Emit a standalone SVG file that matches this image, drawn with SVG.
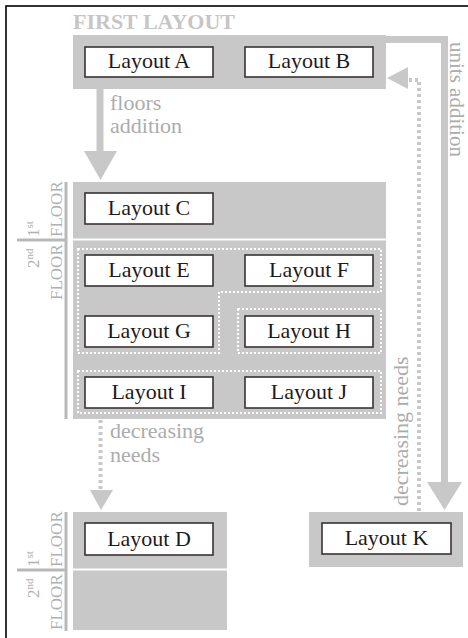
<svg xmlns="http://www.w3.org/2000/svg" width="468" height="638" viewBox="0 0 468 638">
<style>
text{font-family:"Liberation Serif","Tinos","Times New Roman","Noto Serif","DejaVu Serif",serif}
.blk{fill:#c8c8c8}
.box{fill:#fff;stroke:#3a3333;stroke-width:1.6}
.lbl{font-size:22px;fill:#1e1a1a;text-anchor:middle}
.note{font-size:22px;fill:#acacac}
.side{font-size:17px;fill:#b0b0b0}
.dots{fill:none;stroke:#fff;stroke-width:2;stroke-dasharray:2 2}
.arr{fill:none;stroke:#c8c8c8;stroke-width:7}
.darr{fill:none;stroke:#c8c8c8;stroke-width:4;stroke-dasharray:3 3}
.head{fill:#c8c8c8}
.bar{stroke:#b8b8b8;stroke-width:3}
</style>
<rect width="468" height="638" fill="#fff"/>
<rect x="6" y="6" width="470" height="640" fill="none" stroke="#000" stroke-width="1.6"/>

<g id="connectors">
  <path class="arr" d="M100,89 V152"/>
  <polygon class="head" points="84,151 117,151 100.5,180"/>
  <path class="arr" d="M386,39.5 H444.5 V483"/>
  <polygon class="head" points="427,482 462,482 444.5,510"/>
  <path class="darr" d="M419,511 V80 H408"/>
  <polygon class="head" points="387,78 408,67 408,89"/>
  <path class="darr" d="M100.5,420 V491"/>
  <polygon class="head" points="90,490 113,490 101,510"/>
  <text class="note" x="110" y="110">floors</text>
  <text class="note" x="110" y="133">addition</text>
  <text class="note" font-size="21" style="font-size:21px" transform="translate(450,42) rotate(90)">units addition</text>
  <text class="note" transform="translate(408,506) rotate(-90)">decreasing needs</text>
  <text class="note" x="110" y="438">decreasing</text>
  <text class="note" x="110" y="462">needs</text>
</g>

<g id="first-layout">
  <text x="73" y="29" font-size="22" font-weight="bold" fill="#c6c6c6">FIRST LAYOUT</text>
  <rect class="blk" x="73" y="35" width="313" height="54"/>
</g>
<g id="layout-a"><rect class="box" x="85" y="47" width="128" height="30"/><text class="lbl" x="149" y="68">Layout A</text></g>
<g id="layout-b"><rect class="box" x="245" y="47" width="128" height="30"/><text class="lbl" x="309" y="68">Layout B</text></g>

<g id="second-layout">
  <rect class="blk" x="73" y="182" width="313" height="56.5"/>
  <rect class="blk" x="73" y="240.5" width="313" height="178.5"/>
  <line class="bar" x1="66" y1="182" x2="66" y2="419"/>
  <line class="bar" x1="17" y1="240" x2="66" y2="240"/>
  <text class="side" transform="translate(62,237) rotate(-90)">FLOOR</text>
  <text class="side" transform="translate(62,300) rotate(-90)">FLOOR</text>
  <text class="side" transform="translate(39,237) rotate(-90)">1<tspan dy="-6" font-size="11">st</tspan></text>
  <text class="side" transform="translate(39,268) rotate(-90)">2<tspan dy="-6" font-size="11">nd</tspan></text>
  <path class="dots" d="M78,249 H381 V292 H219 V353 H78 Z"/>
  <rect class="dots" x="238" y="309" width="143" height="44"/>
  <rect class="dots" x="78" y="371" width="303" height="42"/>
</g>
<g id="layout-c"><rect class="box" x="85" y="193" width="128" height="31"/><text class="lbl" x="149" y="215">Layout C</text></g>
<g id="layout-e"><rect class="box" x="85" y="255" width="128" height="31"/><text class="lbl" x="149" y="277">Layout E</text></g>
<g id="layout-f"><rect class="box" x="245" y="255" width="128" height="31"/><text class="lbl" x="309" y="277">Layout F</text></g>
<g id="layout-g"><rect class="box" x="85" y="316" width="128" height="31"/><text class="lbl" x="149" y="338">Layout G</text></g>
<g id="layout-h"><rect class="box" x="245" y="316" width="128" height="31"/><text class="lbl" x="309" y="338">Layout H</text></g>
<g id="layout-i"><rect class="box" x="85" y="377" width="128" height="31"/><text class="lbl" x="149" y="399">Layout I</text></g>
<g id="layout-j"><rect class="box" x="245" y="377" width="128" height="31"/><text class="lbl" x="309" y="399">Layout J</text></g>

<g id="third-layout-d">
  <rect class="blk" x="73" y="512" width="154" height="56.5"/>
  <rect class="blk" x="73" y="570.5" width="154" height="59.5"/>
  <line class="bar" x1="66" y1="512" x2="66" y2="631"/>
  <line class="bar" x1="17" y1="570" x2="66" y2="570"/>
  <text class="side" transform="translate(62,567) rotate(-90)">FLOOR</text>
  <text class="side" transform="translate(62,630) rotate(-90)">FLOOR</text>
  <text class="side" transform="translate(39,567) rotate(-90)">1<tspan dy="-6" font-size="11">st</tspan></text>
  <text class="side" transform="translate(39,598) rotate(-90)">2<tspan dy="-6" font-size="11">nd</tspan></text>
</g>
<g id="layout-d"><rect class="box" x="85" y="523" width="128" height="32"/><text class="lbl" x="149" y="546">Layout D</text></g>

<g id="third-layout-k">
  <rect class="blk" x="309" y="512" width="154" height="55"/>
</g>
<g id="layout-k"><rect class="box" x="322" y="523" width="129" height="31"/><text class="lbl" x="386.5" y="545">Layout K</text></g>
</svg>
